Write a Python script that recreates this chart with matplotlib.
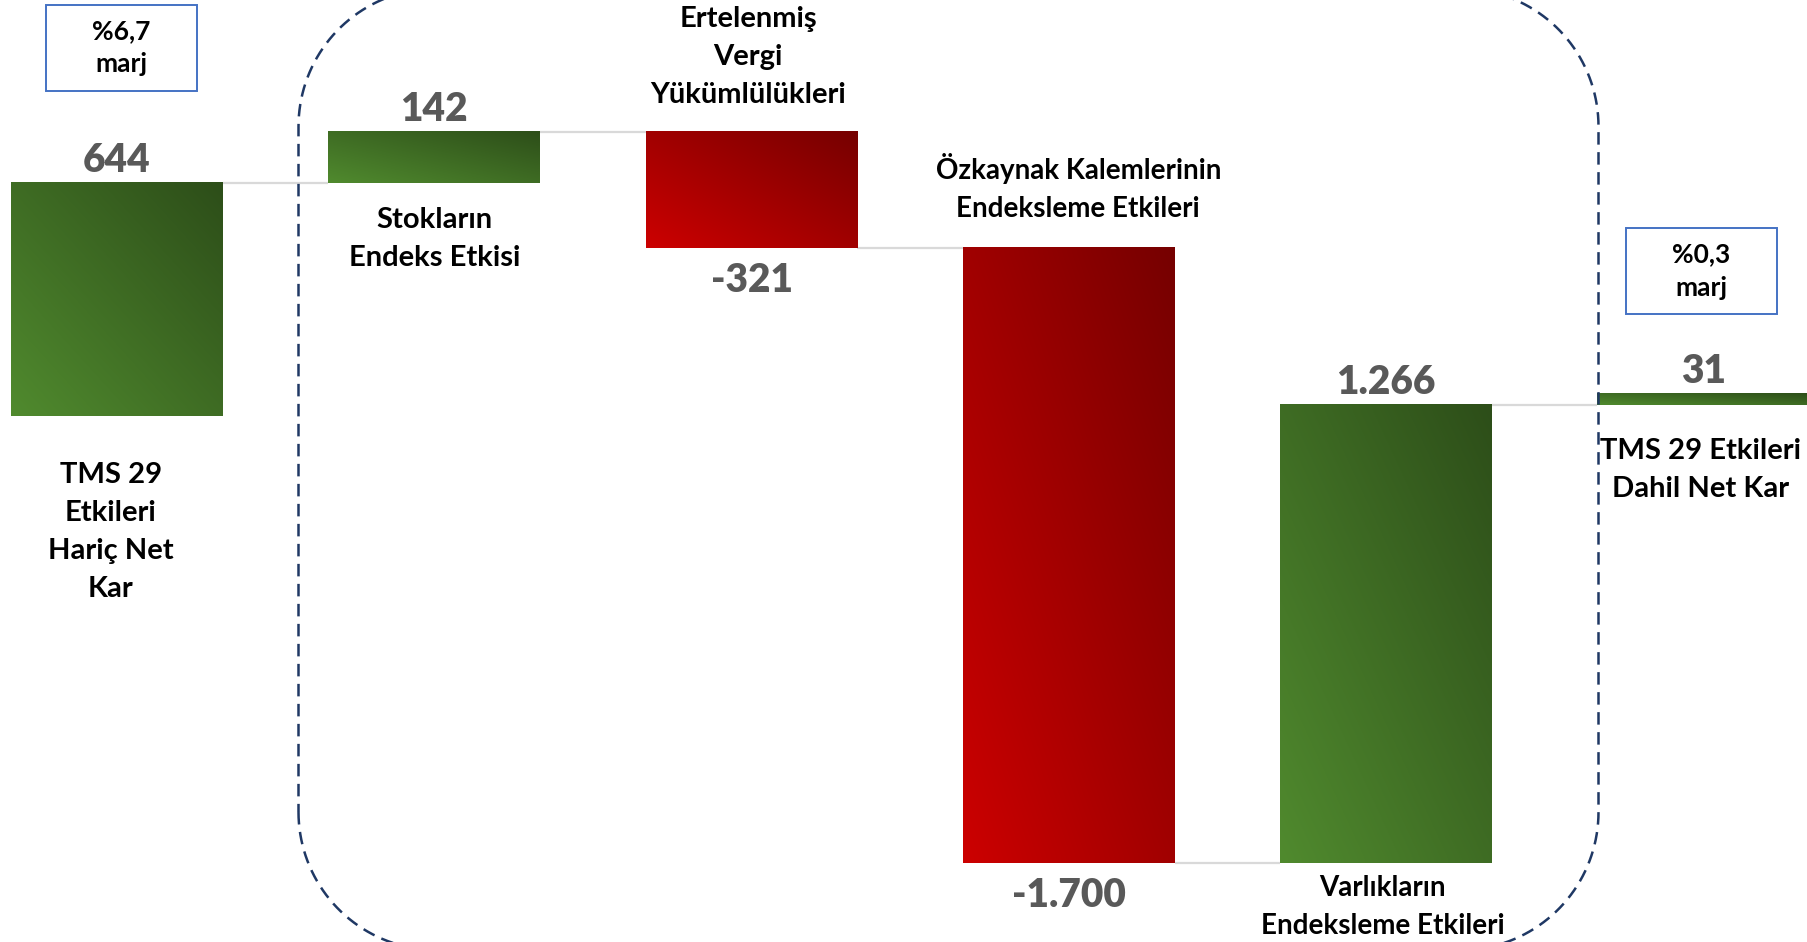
import numpy as np
import matplotlib
matplotlib.use("Agg")
import matplotlib.pyplot as plt
from matplotlib.patches import Rectangle

plt.rcParams['font.family'] = ['Lato', 'DejaVu Sans']
plt.rcParams['font.weight'] = 'bold'

# data
categories = ["TMS 29\nEtkileri\nHariç Net\nKar",
              "Stokların\nEndeks Etkisi",
              "Ertelenmiş\nVergi\nYükümlülükleri",
              "Özkaynak Kalemlerinin\nEndeksleme Etkileri",
              "Varlıkların\nEndeksleme Etkileri",
              "TMS 29 Etkileri\nDahil Net Kar"]
values = [644, 142, -321, -1700, 1266, 31]
# only the first bar starts from zero; the last one floats on the running level as drawn
is_total = [True, False, False, False, False, False]
value_labels = ["644", "142", "-321", "-1.700", "1.266", "31"]
margin_labels = ["%6,7\nmarj", "%0,3\nmarj"]

# category label anchors (bar index offset, data y)
cat_pos = [(-0.02, -320), (1.0, 490), (1.99, 993), (3.03, 631), (3.99, -1357), (4.99, -149)]

green = (np.array([0x50, 0x8a, 0x2e]) / 255, np.array([0x2d, 0x4e, 0x19]) / 255)
red = (np.array([0xcc, 0x00, 0x00]) / 255, np.array([0x76, 0x00, 0x00]) / 255)


def gradient(light, dark, n=64):
    u = np.linspace(0, 1, n)
    U, V = np.meshgrid(u, u)
    t = ((U + V) / 2)[..., None]
    return light * (1 - t) + dark * t


def rounded_rect(L, T, R, B, r, n=40):
    # y grows downward here
    corners = [((L + r, B - r), 180, 90), ((R - r, B - r), 90, 0),
               ((R - r, T + r), 0, -90), ((L + r, T + r), -90, -180)]
    xs, ys = [], []
    for (cx, cy), a0, a1 in corners:
        th = np.radians(np.linspace(a0, a1, n))
        xs.extend(cx + r * np.cos(th))
        ys.extend(cy + r * np.sin(th))
    xs.append(xs[0])
    ys.append(ys[0])
    return xs, ys


fig = plt.figure(figsize=(18.07, 9.42), dpi=100)
ax = fig.add_axes([0, 0, 1, 1])
ax.axis('off')

width = 0.668
bottoms, tops = [], []
level = 0
for v, tot in zip(values, is_total):
    b = 0 if tot else level
    level = b + v
    bottoms.append(min(b, level))
    tops.append(max(b, level))

for i, v in enumerate(values):
    light, dark = green if v >= 0 else red
    ax.imshow(gradient(light, dark), extent=[i - width / 2, i + width / 2, bottoms[i], tops[i]],
              origin='lower', aspect='auto', interpolation='bicubic', zorder=2)

# connectors
level = 0
for i, v in enumerate(values[:-1]):
    level = v if is_total[i] else level + v
    ax.plot([i + width / 2, i + 1 - width / 2], [level, level], color='#d9d9d9', lw=1.6, zorder=1,
            solid_capstyle='butt')

# value labels
for i, v in enumerate(values):
    if v >= 0:
        ax.annotate(value_labels[i], (i, tops[i]), xytext=(0, 8), textcoords='offset points',
                    ha='center', va='baseline', fontsize=28, color='#595959', fontweight='heavy')
    else:
        ax.annotate(value_labels[i], (i, bottoms[i]), xytext=(0, -10), textcoords='offset points',
                    ha='center', va='top', fontsize=28, color='#595959', fontweight='heavy')

# category labels
for (x, y), c in zip(cat_pos, categories):
    fs = 20 if c.startswith("Özkaynak") or c.startswith("Varl") else 21
    ax.text(x, y, c, ha='center', va='center', fontsize=fs, fontweight='bold', color='black',
            linespacing=1.58)

ax.set_xlim(-0.3688, 5.327)
ax.set_ylim(-1453, 1150)

# decorations in pixel space
deco = fig.add_axes([0, 0, 1, 1], facecolor='none')
deco.set_xlim(0, 1807)
deco.set_ylim(942, 0)
deco.axis('off')
bx, by = rounded_rect(298.5, -11.5, 1598.5, 950, 138)
deco.plot(bx, by, color='#1f3864', lw=1.8, linestyle=(0, (5, 3)), zorder=5)
for (x0, y0), m in zip([(46, 5), (1626, 228)], margin_labels):
    deco.add_patch(Rectangle((x0, y0), 151, 86, fill=True, facecolor='white', edgecolor='#4472c4',
                             lw=1.4, zorder=6))
    deco.text(x0 + 75.5, y0 + 43, m, ha='center', va='center', fontsize=19, fontweight='bold',
              color='black', linespacing=1.45, zorder=7)

fig.savefig("out.png", dpi=100)
